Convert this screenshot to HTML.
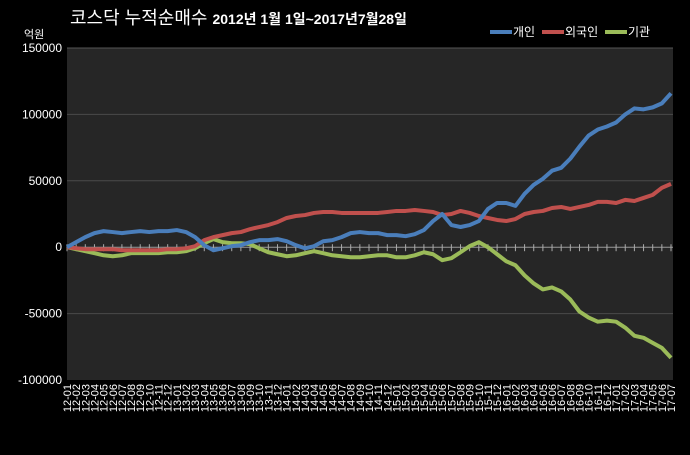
<!DOCTYPE html>
<html><head><meta charset="utf-8"><style>
body{margin:0;background:#000;}
svg text{font-family:"Liberation Sans","Noto Sans CJK KR",sans-serif;fill:#fff;}
</style></head><body>
<svg id="c" width="690" height="450" viewBox="0 0 690 450">
<rect x="0" y="0" width="690" height="450" fill="#000"/>
<text x="70" y="24" font-size="18">코스닥  누적순매수 <tspan font-size="14" font-weight="bold">2012년 1월 1일~2017년7월28일</tspan></text>
<text x="24" y="38" font-size="11">억원</text>
<g>
<g><line x1="490" y1="32" x2="512" y2="32" stroke="#4a7ebb" stroke-width="4"/><text x="513" y="36" font-size="12">개인</text></g>
<g><line x1="542" y1="32" x2="564" y2="32" stroke="#c0504d" stroke-width="4"/><text x="565" y="36" font-size="12">외국인</text></g>
<g><line x1="605" y1="32" x2="627" y2="32" stroke="#9bbb59" stroke-width="4"/><text x="628" y="36" font-size="12">기관</text></g>
</g>
<rect x="67" y="48" width="606" height="332" fill="#262626"/>
<g id="grid"></g>
<g id="yt"></g>
<g id="xt"></g>
<g id="series"></g>
</svg>
<script>
const categories=["12-01","12-02","12-03","12-04","12-05","12-06","12-07","12-08","12-09","12-10","12-11","12-12","13-01","13-02","13-03","13-04","13-05","13-06","13-07","13-08","13-09","13-10","13-11","13-12","14-01","14-02","14-03","14-04","14-05","14-06","14-07","14-08","14-09","14-10","14-11","14-12","15-01","15-02","15-03","15-04","15-05","15-06","15-07","15-08","15-09","15-10","15-11","15-12","16-01","16-02","16-03","16-04","16-05","16-06","16-07","16-08","16-09","16-10","16-11","16-12","17-01","17-02","17-03","17-04","17-05","17-06","17-07"];
const individual=[0,3800,7600,10600,12100,11400,10600,11400,12100,11400,12100,12100,12900,11400,7600,1500,-2300,-800,800,1500,3800,5300,5300,6100,4500,1500,-800,800,4500,5300,7600,10600,11400,10600,10600,9100,9100,8300,9800,12900,19700,25000,16700,15200,16700,19700,28800,33300,33300,31100,40200,47000,51500,57600,59800,66700,75800,84100,88600,90900,93900,100000,104500,103800,105300,108300,115900];
const foreign=[0,-800,-1500,-1500,-1500,-1500,-2300,-2300,-2300,-2300,-2300,-1500,-1500,-800,800,5300,7600,9100,10600,11400,13600,15200,16700,18900,22000,23500,24200,25800,26500,26500,25800,25800,25800,25800,25800,26500,27300,27300,28000,27300,26500,24200,25000,27300,25800,23500,22000,20500,19700,21200,25000,26500,27300,29500,30300,28800,30300,31800,34100,34100,33300,35600,34800,37100,39400,44700,47700];
const institution=[0,-1500,-3000,-4500,-6100,-6800,-6100,-4500,-4500,-4500,-4500,-3800,-3800,-3000,-800,3000,6100,3800,3000,3000,2300,-800,-3800,-5300,-6800,-6100,-4500,-3000,-4500,-6100,-6800,-7600,-7600,-6800,-6100,-6100,-7600,-7600,-6100,-3800,-5300,-9800,-8300,-3800,800,3800,0,-5300,-10600,-13600,-21200,-27300,-31800,-30300,-33300,-39400,-48500,-53000,-56100,-55300,-56100,-60600,-66700,-68200,-72000,-75800,-83300];
const yTicks=[150000,100000,50000,0,-50000,-100000];
const NS="http://www.w3.org/2000/svg";
const X0=67,X1=671,Y0=380,Y1=48,VMIN=-100000,VMAX=150000;
const xs=i=>X0+i*(X1-X0)/(categories.length-1);
const ys=v=>Y0-(v-VMIN)/(VMAX-VMIN)*(Y0-Y1);
function mk(t,a,p){const e=document.createElementNS(NS,t);for(const k in a)e.setAttribute(k,a[k]);p.appendChild(e);return e;}
const grid=document.getElementById('grid'),yt=document.getElementById('yt'),xt=document.getElementById('xt'),ser=document.getElementById('series');
yTicks.forEach(v=>{
  if(v!==0&&v!==VMIN){const l=mk('line',{x1:X0,x2:673,y1:ys(v),y2:ys(v),stroke:v===VMAX?'#555':'#4a4a4a','stroke-width':1},grid);
  
  }
  const t=mk('text',{x:62,y:ys(v)+4,'font-size':12,'text-anchor':'end'},yt);
  t.textContent=v;
  
  
});
const ax=mk('line',{x1:X0,x2:673,y1:ys(0),y2:ys(0),stroke:'#999','stroke-width':1},xt);


categories.forEach((c,i)=>{
  const x=xs(i);
  const tk=mk('line',{x1:x,x2:x,y1:ys(0)-3,y2:ys(0)+4,stroke:'#aaa','stroke-width':1},xt);
  
  
  const t=mk('text',{x:0,y:0,'font-size':11,'text-anchor':'end',transform:`translate(${x+4},384) rotate(-90)`},xt);
  t.textContent=c;
  
  
});
[[institution,'#9bbb59','line-institution'],[foreign,'#c0504d','line-foreign'],[individual,'#4a7ebb','line-individual']].forEach(([d,col,n])=>{
  const p=mk('polyline',{points:d.map((v,i)=>xs(i)+','+ys(v)).join(' '),fill:'none',stroke:col,'stroke-width':4,'stroke-linejoin':'round'},ser);
  
  
});
</script>
</body></html>
